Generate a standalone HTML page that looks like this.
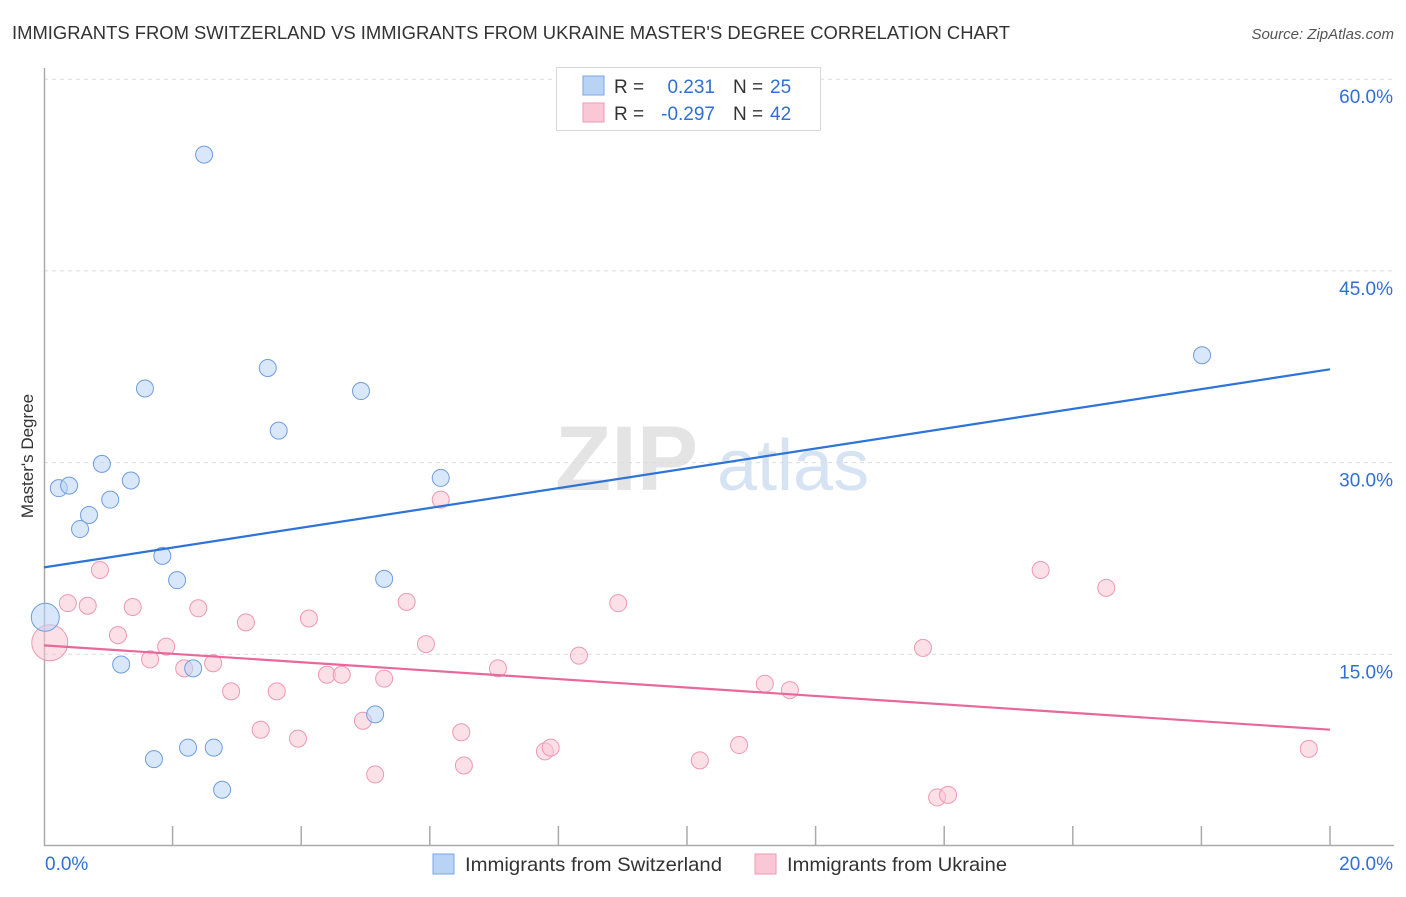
<!DOCTYPE html>
<html><head><meta charset="utf-8"><style>
body{margin:0;background:#fff;font-family:"Liberation Sans",sans-serif;}
svg text{font-family:"Liberation Sans",sans-serif;}
</style></head><body>
<svg id="chart" width="1406" height="892" xmlns="http://www.w3.org/2000/svg">
<text x="12" y="39" font-size="18.4" fill="#333" textLength="998" lengthAdjust="spacingAndGlyphs">IMMIGRANTS FROM SWITZERLAND VS IMMIGRANTS FROM UKRAINE MASTER'S DEGREE CORRELATION CHART</text>
<text x="1394" y="39" font-size="15" fill="#555" text-anchor="end" font-style="italic">Source: ZipAtlas.com</text>
<g>
<text x="555" y="490" font-size="92" fill="#e4e4e4" font-family="Liberation Serif" font-weight="bold">ZIP</text>
<text x="717" y="490" font-size="72" fill="#d6e3f3">atlas</text>
</g>
<text transform="translate(33,456) rotate(-90)" font-size="17" fill="#333" text-anchor="middle">Master's Degree</text>
<g id="grid"></g>
<g id="axes"></g>
<g id="marks"></g>
<g>
<rect x="556.5" y="67.5" width="264" height="63" fill="#fff" stroke="#d8d8d8"/>
<rect x="583" y="76" width="21" height="19" fill="#b9d3f5" stroke="#7aa6e6"/>
<rect x="583" y="103" width="21" height="19" fill="#f9c7d6" stroke="#ee98b3"/>
<text x="614" y="93" font-size="19" fill="#333">R =</text>
<text x="715" y="93" font-size="19" fill="#2f6fd6" text-anchor="end">0.231</text>
<text x="733" y="93" font-size="19" fill="#333">N =</text>
<text x="770" y="93" font-size="19" fill="#2f6fd6">25</text>
<text x="614" y="120" font-size="19" fill="#333">R =</text>
<text x="715" y="120" font-size="19" fill="#2f6fd6" text-anchor="end">-0.297</text>
<text x="733" y="120" font-size="19" fill="#333">N =</text>
<text x="770" y="120" font-size="19" fill="#2f6fd6">42</text>
</g>
<g>
<rect x="433" y="854" width="21" height="20" fill="#b9d3f5" stroke="#7aa6e6"/>
<text x="465" y="871" font-size="19.5" fill="#333" textLength="257" lengthAdjust="spacingAndGlyphs">Immigrants from Switzerland</text>
<rect x="755" y="854" width="21" height="20" fill="#f9c7d6" stroke="#ee98b3"/>
<text x="787" y="871" font-size="19.5" fill="#333" textLength="220" lengthAdjust="spacingAndGlyphs">Immigrants from Ukraine</text>
</g>
</svg>
<script>
const yTicks=[15,30,45,60];
const yTickLabels=["15.0%","30.0%","45.0%","60.0%"];
const xTickVals=[2,4,6,8,10,12,14,16,18,20];
const swX=[2.49,3.48,1.57,4.93,3.65,0.90,6.17,0.23,0.39,1.35,1.03,0.70,0.56,1.84,2.07,5.29,0.02,1.20,2.32,5.15,1.71,2.24,2.64,2.77,18.01];
const swY=[54.1,37.4,35.8,35.6,32.5,29.9,28.8,28.0,28.2,28.6,27.1,25.9,24.8,22.7,20.8,20.9,17.9,14.2,13.9,10.3,6.8,7.7,7.7,4.4,38.4];
const swBig=[16];
const ukX=[0.09,0.37,0.68,0.87,1.38,1.15,1.90,1.65,2.40,2.18,2.63,3.14,2.91,4.12,3.62,3.37,3.95,4.40,4.63,5.29,4.96,5.15,5.64,5.94,6.49,6.53,6.17,7.06,7.79,7.88,8.32,8.93,10.20,10.81,11.21,11.60,13.67,13.89,14.06,15.50,16.52,19.67];
const ukY=[15.9,19.0,18.8,21.6,18.7,16.5,15.6,14.6,18.6,13.9,14.3,17.5,12.1,17.8,12.1,9.1,8.4,13.4,13.4,13.1,9.8,5.6,19.1,15.8,8.9,6.3,27.1,13.9,7.4,7.7,14.9,19.0,6.7,7.9,12.7,12.2,15.5,3.8,4.0,21.6,20.2,7.6];
const ukBig=[0];
const swTrend=[21.8,37.3];
const ukTrend=[15.7,9.1];
const NS="http://www.w3.org/2000/svg";
const X=v=>44+v/20*1286;
const Y=v=>846-v*12.78;
function mk(t,a,p){const e=document.createElementNS(NS,t);for(const k in a)e.setAttribute(k,a[k]);p.appendChild(e);return e;}
const grid=document.getElementById('grid'),axes=document.getElementById('axes'),marks=document.getElementById('marks');
yTicks.forEach((v,i)=>{
 const l=mk('line',{x1:44,x2:1394,y1:Y(v),y2:Y(v),stroke:'#dcdcdc','stroke-dasharray':'4,4'},grid);
 
 
 const t=mk('text',{x:1393,y:Y(v)+24,'font-size':19,fill:'#2f6fd6','text-anchor':'end'},axes);
 t.textContent=yTickLabels[i];
 
 
});
const ax=mk('path',{d:'M44.5 68 V845.5 H1394',fill:'none',stroke:'#aaa','stroke-width':1.5},axes);


xTickVals.forEach(v=>{
 const t=mk('line',{x1:X(v),x2:X(v),y1:826,y2:845,stroke:'#aaa','stroke-width':1.5},axes);
 
 
});
const x0=mk('text',{x:45,y:870,'font-size':19,fill:'#2f6fd6'},axes);x0.textContent='0.0%';


const x1=mk('text',{x:1393,y:870,'font-size':19,fill:'#2f6fd6','text-anchor':'end'},axes);x1.textContent='20.0%';


ukX.forEach((v,i)=>{
 const c=mk('circle',{cx:X(v),cy:Y(ukY[i]),r:ukBig.includes(i)?18:8.5,fill:'#f9c7d6','fill-opacity':0.55,stroke:'#ee98b3','stroke-width':1},marks);
 
 
});
swX.forEach((v,i)=>{
 const c=mk('circle',{cx:X(v),cy:Y(swY[i]),r:swBig.includes(i)?14:8.5,fill:'#b9d3f5','fill-opacity':0.55,stroke:'#6f9de0','stroke-width':1},marks);
 
 
});
const tl1=mk('line',{x1:X(0),y1:Y(swTrend[0]),x2:X(20),y2:Y(swTrend[1]),stroke:'#2e73d8','stroke-width':2.2},marks);


const tl2=mk('line',{x1:X(0),y1:Y(ukTrend[0]),x2:X(20),y2:Y(ukTrend[1]),stroke:'#e8689a','stroke-width':2.2},marks);


</script>
</body></html>
